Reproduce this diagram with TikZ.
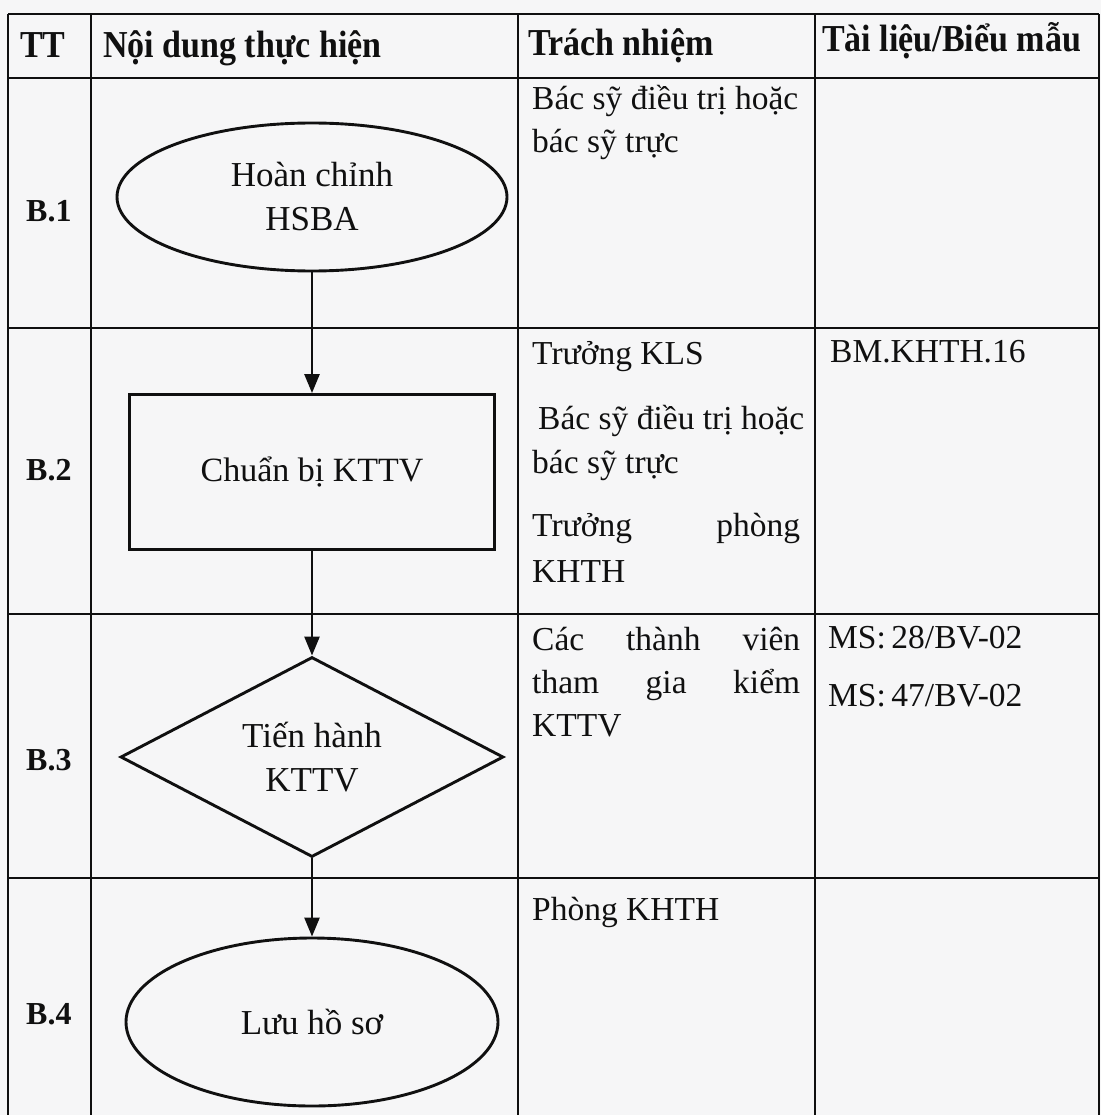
\documentclass[tikz,border=0pt]{standalone}
\usepackage{fontspec}
\setmainfont{Liberation Serif}
\usetikzlibrary{shapes.geometric,arrows.meta}
\definecolor{paper}{HTML}{F6F6F7}
\definecolor{ink}{HTML}{101010}
\newcommand{\tallhdr}[1]{\scalebox{1}[1.12]{#1}}
\tikzset{
  grid/.style={draw=ink, line width=2.6pt},
  shapeline/.style={draw=ink, line width=2.9pt},
  flowarrow/.style={draw=ink, line width=2.6pt, -{Triangle[length=19pt,width=15pt]}},
  hdr/.style={font=\fontsize{34}{40}\selectfont\bfseries, text=ink, anchor=base west, inner sep=0pt},
  lbl/.style={font=\fontsize{32}{36}\selectfont\bfseries, text=ink, anchor=base west, inner sep=0pt},
  body/.style={font=\fontsize{33.5}{42}\selectfont, text=ink, anchor=base west, inner sep=0pt},
  flowtext/.style={font=\fontsize{35}{44}\selectfont, text=ink, align=center},
}
\begin{document}
\begin{tikzpicture}[x=1pt,y=-1pt]
\path[fill=paper] (0,0) rectangle (1101,1115);
\useasboundingbox (0,0) rectangle (1101,1115);
% table grid
\draw[grid] (8,14) -- (1099,14);
\draw[grid] (8,78) -- (1099,78);
\draw[grid] (8,328) -- (1099,328);
\draw[grid] (8,614) -- (1099,614);
\draw[grid] (8,878) -- (1099,878);
\draw[grid] (8,14) -- (8,1115);
\draw[grid] (91,14) -- (91,1115);
\draw[grid] (518,14) -- (518,1115);
\draw[grid] (815,14) -- (815,1115);
\draw[grid] (1099,14) -- (1099,1115);
% header
\node[hdr] (hTT) at (20,58) {\tallhdr{TT}};
\node[hdr] (hND) at (103,58) {\tallhdr{Nội dung thực hiện}};
\node[hdr] (hTN) at (528,56) {\tallhdr{Trách nhiệm}};
\node[hdr] (hTL) at (822,52) {\tallhdr{Tài liệu/Biểu mẫu}};
% step labels
\node[lbl] (b1) at (26,222) {B.1};
\node[lbl] (b2) at (26,480) {B.2};
\node[lbl] (b3) at (26,770) {B.3};
\node[lbl] (b4) at (26,1024) {B.4};
% flowchart
\node[shapeline, ellipse, minimum width=390pt, minimum height=148pt, inner sep=0pt, flowtext] (e1) at (312,197) {Hoàn chỉnh\\HSBA};
\node[shapeline, rectangle, minimum width=365pt, minimum height=155pt, inner sep=0pt, flowtext, font=\fontsize{34}{44}\selectfont] (r2) at (312,472) {Chuẩn bị KTTV};
\node[shapeline, diamond, aspect=1.9, minimum width=383pt, minimum height=200pt, inner sep=0pt, flowtext] (d3) at (312,757) {Tiến hành\\KTTV};
\node[shapeline, ellipse, minimum width=372pt, minimum height=168pt, inner sep=0pt, flowtext] (e4) at (312,1022) {Lưu hồ sơ};
\draw[flowarrow] (e1.south) -- (r2.north);
\draw[flowarrow] (r2.south) -- (d3.north);
\draw[flowarrow] (d3.south) -- (e4.north);
% responsibility column
\node[body] (t1a) at (532,110) {Bác sỹ điều trị hoặc};
\node[body] (t1b) at (532,153) {bác sỹ trực};
\node[body] (t2a) at (532,364) {Trưởng KLS};
\node[body] (t2b) at (538,429) {Bác sỹ điều trị hoặc};
\node[body] (t2c) at (532,473) {bác sỹ trực};
\node[body] (t2d) at (532,536) {\hbox to 268pt{Trưởng\hfill phòng}};
\node[body] (t2e) at (532,582) {KHTH};
\node[body] (t3a) at (532,650) {\hbox to 268pt{Các\hfill thành\hfill viên}};
\node[body] (t3b) at (532,693) {\hbox to 268pt{tham\hfill gia\hfill kiểm}};
\node[body] (t3c) at (532,736) {KTTV};
\node[body] (t4a) at (532,920) {Phòng KHTH};
% documents column
\node[body] (f2) at (830,362) {BM.KHTH.16};
\node[body] (f3a) at (828,648) {MS:\,28/BV-02};
\node[body] (f3b) at (828,706) {MS:\,47/BV-02};
\end{tikzpicture}
\end{document}
